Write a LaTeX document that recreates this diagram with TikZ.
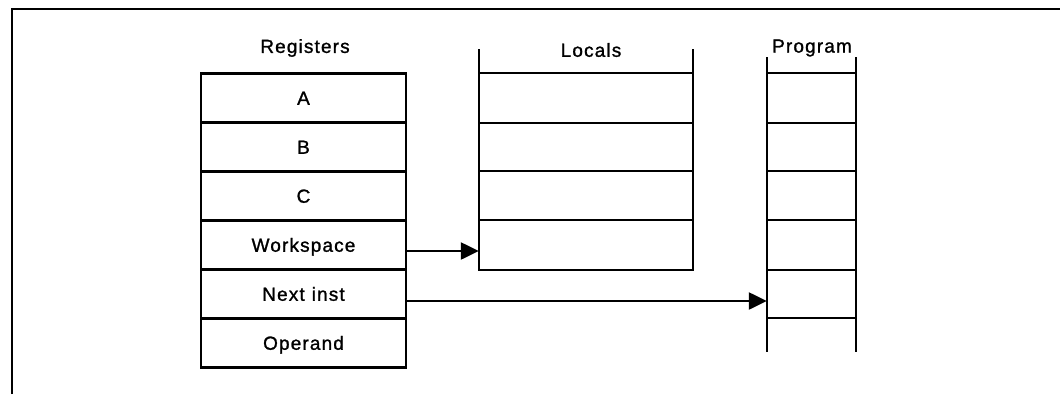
\documentclass[tikz,border=0pt]{standalone}
\usepackage{fontspec}
\setmainfont{Liberation Sans}[LetterSpace=6,FakeBold=1.2]
\usetikzlibrary{arrows.meta}
\begin{document}
\begin{tikzpicture}[x=1pt,y=-1pt,
  ln/.style={line width=2.4pt},
  frame/.style={line width=1.8pt},
  reg/.style={draw,line width=2.4pt,minimum width=205pt,minimum height=49pt,inner sep=0pt,font=\fontsize{19}{22}\selectfont,text height=13.5pt,text depth=0pt},
  cell/.style={inner sep=0pt,minimum height=49pt},
  title/.style={inner sep=0pt,font=\fontsize{19}{22}\selectfont},
  ptr/.style={line width=2.4pt,-{Triangle[length=18pt,width=17pt]}}]
\useasboundingbox (0,0) rectangle (1060,394);
% frame
\draw[frame] (12,394) -- (12,9) -- (1060,9);
% Registers
\node[title] (regt) at (305,48) {Registers};
\node[reg] (ra) at (303.5,98) {A};
\node[reg] (rb) at (303.5,147) {B};
\node[reg] (rc) at (303.5,196) {C};
\node[reg] (rw) at (303.5,245) {Workspace};
\node[reg] (rn) at (303.5,294) {Next\hspace{7pt}inst};
\node[reg] (ro) at (303.5,343) {Operand};
% Locals
\node[title] (loct) at (591,50) {Locals};
\draw[ln] (479,49) -- (479,270) -- (693,270) -- (693,49);
\foreach \y in {73,123,171,220} \draw[ln] (479,\y) -- (693,\y);
\node[cell,minimum width=214pt] (l1) at (586,98) {};
\node[cell,minimum width=214pt] (l2) at (586,147) {};
\node[cell,minimum width=214pt] (l3) at (586,196) {};
\node[cell,minimum width=214pt] (l4) at (586,245) {};
% Program
\node[title] (prt) at (812,48) {Program};
\draw[ln] (767,57) -- (767,352);
\draw[ln] (856,57) -- (856,352);
\foreach \y in {73,123,171,220,270,318} \draw[ln] (767,\y) -- (856,\y);
\node[cell,minimum width=89pt] (p5) at (811.5,294) {};
% pointers
\draw[ptr] (rw.east |- 0,251) -- (l4.west |- 0,251);
\draw[ptr] (rn.east |- 0,301) -- (p5.west |- 0,301);
\end{tikzpicture}
\end{document}
